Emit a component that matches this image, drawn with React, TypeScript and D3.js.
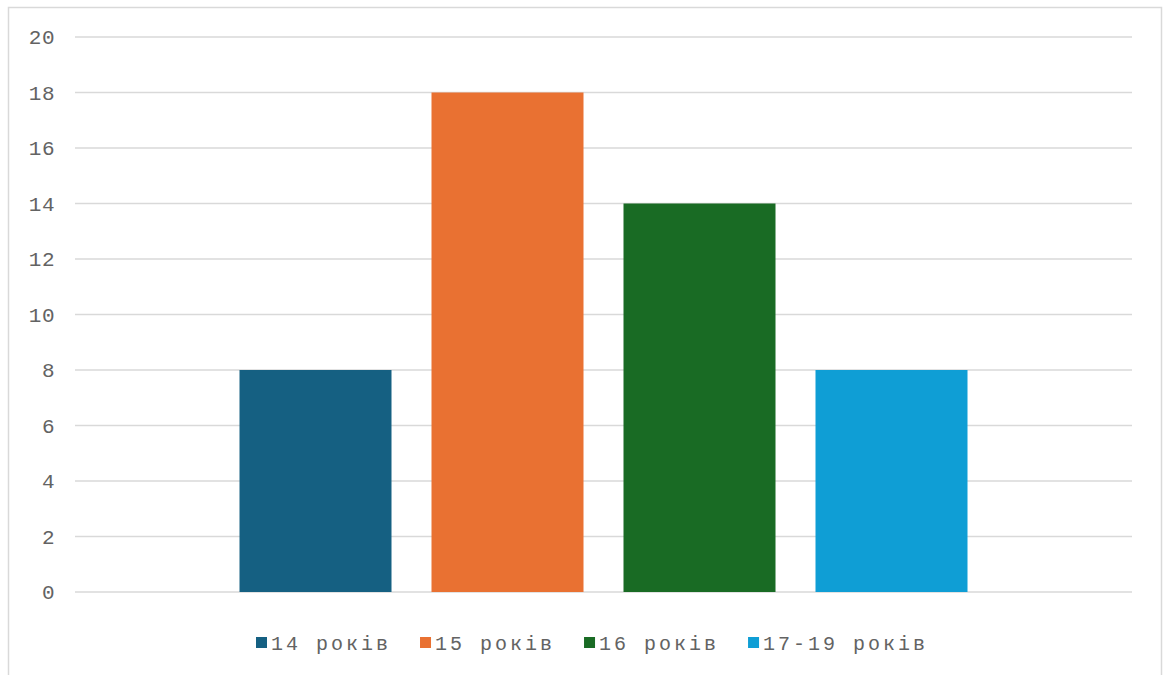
import React, { useEffect, useRef } from "react";
import * as d3 from "d3";

// Age groups and their counts
const series = ["14 років", "15 років", "16 років", "17-19 років"];
const values = [8, 18, 14, 8];
const colors = ["#156082", "#E97132", "#196B24", "#0F9ED5"];
const yTicks = [0, 2, 4, 6, 8, 10, 12, 14, 16, 18, 20];

const W = 1166;
const H = 675;
const FONT = "'Liberation Mono', 'Courier New', monospace";
const TEXT = "#636363";

export default function App() {
  const ref = useRef<SVGSVGElement | null>(null);

  useEffect(() => {
    const svg = d3.select(ref.current);
    svg.selectAll("*").remove();

    // chart frame
    svg
      .append("rect")
      .attr("x", 8.5)
      .attr("y", 7.5)
      .attr("width", 1153)
      .attr("height", 700)
      .attr("fill", "#fff")
      .attr("stroke", "#D9D9D9")
      .attr("stroke-width", 1.5);

    const left = 75;
    const right = 1132;
    const y = d3.scaleLinear().domain([0, 20]).range([592, 37]);

    // one category holding the four series side by side, centred in the plot
    const groupWidth = 728;
    const groupPad = (right - left - groupWidth) / 2;
    const inner = d3
      .scaleBand<string>()
      .domain(series)
      .range([left + groupPad, right - groupPad])
      .paddingInner(40 / 192)
      .paddingOuter(0);

    // gridlines
    svg
      .append("g")
      .selectAll("line")
      .data(yTicks)
      .join("line")
      .attr("x1", left)
      .attr("x2", right)
      .attr("y1", (d) => y(d))
      .attr("y2", (d) => y(d))
      .attr("stroke", "#D9D9D9")
      .attr("stroke-width", 1.5);

    // tick labels
    svg
      .append("g")
      .selectAll("text")
      .data(yTicks)
      .join("text")
      .attr("x", 55)
      .attr("y", (d) => y(d))
      .attr("dy", "0.35em")
      .attr("text-anchor", "end")
      .attr("font-family", FONT)
      .attr("font-size", 21)
      .attr("letter-spacing", 0.5)
      .attr("fill", TEXT)
      .text((d) => String(d));

    // bars
    svg
      .append("g")
      .selectAll("rect")
      .data(series)
      .join("rect")
      .attr("x", (d) => inner(d) as number)
      .attr("width", inner.bandwidth())
      .attr("y", (_, i) => y(values[i]))
      .attr("height", (_, i) => y(0) - y(values[i]))
      .attr("fill", (_, i) => colors[i]);

    // legend
    const lg = svg.append("g");
    let x = 256;
    const sq = 11;
    series.forEach((s, i) => {
      lg.append("rect")
        .attr("x", x)
        .attr("y", 637)
        .attr("width", sq)
        .attr("height", sq)
        .attr("fill", colors[i]);
      const t = lg
        .append("text")
        .attr("x", x + 15)
        .attr("y", 642.5)
        .attr("dy", "0.35em")
        .attr("font-family", FONT)
        .attr("font-size", 20)
        .attr("letter-spacing", 3)
        .attr("fill", TEXT)
        .text(s);
      const w = (t.node() as SVGTextElement).getComputedTextLength();
      x = x + 15 + w + 29;
    });
  }, []);

  return (
    <svg
      ref={ref}
      width={W}
      height={H}
      style={{ position: "absolute", left: 0, top: 0, background: "#fff" }}
    />
  );
}
